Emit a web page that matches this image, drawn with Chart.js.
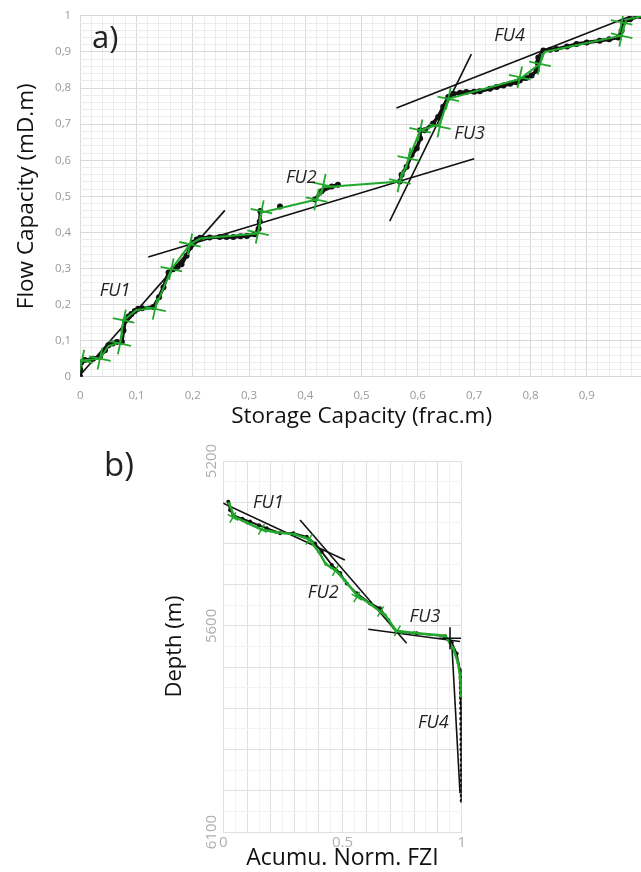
<!DOCTYPE html>
<html>
<head>
<meta charset="utf-8">
<script src="https://cdn.jsdelivr.net/npm/chart.js@4.4.0/dist/chart.umd.min.js"></script>
<style>
  html, body { margin: 0; padding: 0; background: #fff; overflow: hidden; width: 641px; height: 872px; }
  #wrapA { position: absolute; left: 0; top: 0; width: 660px; height: 440px; }
  #wrapB { position: absolute; left: 0; top: 430px; width: 641px; height: 442px; }
  .tag { position: absolute; font-family: "Open Sans", sans-serif; color: #222; line-height: 1; }
</style>
</head>
<body>
<div id="wrapA"><canvas id="chartA" width="660" height="440"></canvas></div>
<div id="wrapB"><canvas id="chartB" width="641" height="442"></canvas></div>
<div class="tag" style="left:92px;top:21px;font-size:31px">a)</div>
<div class="tag" style="left:104px;top:447px;font-size:33px">b)</div>
<script>
// --- a) Lorenz plot: storage capacity vs flow capacity (null = gap in the curve)
const storageCap = [0.0, 0.0, 0.002, 0.008, 0.023, 0.035, 0.044, 0.05, 0.058, 0.065, 0.074, 0.077, 0.08, 0.086, 0.091, 0.097, 0.103, 0.11, 0.13, 0.14, 0.148, 0.157, 0.165, 0.173, 0.18, 0.189, 0.195, 0.2, 0.207, 0.213, 0.23, 0.248, 0.26, 0.272, 0.285, 0.296, 0.31, 0.317, 0.319, 0.32, 0.33, 0.355, 0.38, 0.417, 0.429, 0.447, 0.458, 0.5, 0.568, 0.571, 0.58, 0.589, 0.598, 0.604, 0.604, 0.612, 0.627, 0.636, 0.645, 0.654, 0.663, 0.675, 0.686, 0.7, 0.71, 0.728, 0.74, 0.752, 0.764, 0.775, 0.781, 0.792, 0.802, 0.811, 0.813, 0.814, 0.823, 0.835, 0.846, 0.865, 0.882, 0.9, 0.923, 0.94, 0.956, 0.962, 0.965, 0.977, 0.995, 1.0];
const flowCap    = [0.0, 0.02, 0.04, 0.046, 0.05, 0.055, 0.073, 0.087, 0.092, 0.096, 0.097, 0.128, 0.156, 0.167, 0.174, 0.182, 0.188, 0.19, 0.193, 0.22, 0.248, 0.289, 0.298, 0.305, 0.312, 0.335, 0.358, 0.371, 0.38, 0.385, 0.386, 0.387, 0.387, 0.387, 0.389, 0.39, 0.395, 0.41, 0.43, 0.459, null, 0.472, null, 0.491, 0.514, 0.527, 0.532, null, 0.541, 0.56, 0.582, 0.615, 0.633, 0.66, 0.683, 0.683, 0.702, 0.72, 0.748, 0.775, 0.784, 0.787, 0.789, 0.79, 0.791, 0.798, 0.803, 0.807, 0.812, 0.816, 0.821, 0.828, 0.835, 0.849, 0.87, 0.885, 0.904, 0.906, 0.908, 0.915, 0.922, 0.926, 0.931, 0.935, 0.94, 0.959, 0.982, 0.991, 1.0, 1.0];

// green fitted segments and break markers
const greenAX = [0.0, 0.003, 0.035, 0.05, 0.071, 0.077, 0.1, 0.133, 0.162, 0.195, 0.213, 0.316, 0.322, 0.42, 0.432, 0.568, 0.583, 0.604, 0.639, 0.654, 0.781, 0.817, 0.825, 0.962, 0.97, 1.0];
const greenAY = [0.035, 0.045, 0.05, 0.085, 0.095, 0.156, 0.185, 0.19, 0.298, 0.367, 0.383, 0.397, 0.455, 0.491, 0.525, 0.541, 0.6, 0.683, 0.7, 0.77, 0.825, 0.867, 0.9, 0.945, 0.99, 1.0];
const crossAX = [0.003, 0.035, 0.071, 0.077, 0.133, 0.162, 0.195, 0.316, 0.322, 0.42, 0.432, 0.568, 0.583, 0.604, 0.639, 0.654, 0.781, 0.817, 0.962, 0.962];
const crossAY = [0.045, 0.05, 0.092, 0.156, 0.188, 0.298, 0.367, 0.399, 0.459, 0.491, 0.532, 0.541, 0.605, 0.683, 0.693, 0.77, 0.83, 0.867, 0.945, 0.982];

// FU regression lines [x0, y0, x1, y1]
const regA = [
  [0.0, 0.005, 0.257, 0.461],
  [0.121, 0.332, 0.70, 0.604],
  [0.55, 0.431, 0.695, 0.894],
  [0.562, 0.745, 1.0, 1.013]
];
const fuNames = ['FU1', 'FU2', 'FU3', 'FU4'];
const fuAX = [0.062, 0.393, 0.692, 0.763];
const fuAY = [0.237, 0.552, 0.674, 0.945];

// --- b) depth vs cumulative normalized FZI
const fziB   = [0.021, 0.028, 0.042, 0.08, 0.112, 0.15, 0.182, 0.238, 0.294, 0.35, 0.385, 0.413, 0.455, 0.49, 0.518, 0.56, 0.615, 0.657, 0.692, 0.727, 0.811, 0.93, 0.958, 0.979, 0.993, 0.995, 0.996, 0.996, 0.997, 0.997, 0.997, 0.998, 0.998, 0.998, 0.998, 0.999, 0.999, 0.999, 0.999, 0.999, 1.0, 1.0, 1.0, 1.0, 1.0, 1.0, 1.0, 1.0, 1.0, 1.0];
const depthB = [5299, 5319, 5331, 5340, 5347, 5356, 5363, 5375, 5375, 5384, 5400, 5420, 5452, 5472, 5497, 5521, 5545, 5557, 5586, 5614, 5618, 5625, 5640, 5667, 5707, 5725, 5738, 5750, 5762, 5775, 5787, 5800, 5812, 5825, 5838, 5850, 5862, 5875, 5888, 5900, 5912, 5925, 5938, 5950, 5962, 5975, 5988, 6000, 6012, 6024];
const greenBX = [0.025, 0.045, 0.1, 0.16, 0.22, 0.3, 0.36, 0.40, 0.43, 0.47, 0.51, 0.56, 0.62, 0.68, 0.725, 0.80, 0.93, 0.965, 0.985, 0.995, 0.998];
const greenBD = [5303, 5335, 5350, 5366, 5373, 5378, 5390, 5420, 5450, 5465, 5490, 5525, 5548, 5575, 5612, 5617, 5624, 5655, 5690, 5730, 5770];
const crossBX = [0.04, 0.16, 0.36, 0.47, 0.56, 0.66, 0.73];
const crossBD = [5337, 5366, 5390, 5466, 5530, 5565, 5612];
const regB = [
  [-0.028, 5295, 0.51, 5440],
  [0.322, 5343, 0.769, 5642],
  [0.608, 5608, 0.993, 5638],
  [0.958, 5638, 0.993, 6006]
];
const fuBX = [0.189, 0.419, 0.846, 0.881];
const fuBD = [5301, 5521, 5578, 5836];

const GREEN = '#22a82c';
const FONT = '"Open Sans", sans-serif';

function pts(xs, ys) { return xs.map((x, i) => ({ x: x, y: ys[i] })); }

const fuText = {
  id: 'fuText',
  afterDatasetsDraw(chart, args, opts) {
    const { ctx, scales } = chart;
    ctx.save();
    ctx.font = 'italic 18px ' + FONT;
    ctx.fillStyle = '#222';
    ctx.textAlign = 'center';
    ctx.textBaseline = 'middle';
    opts.names.forEach((t, i) => {
      ctx.fillText(t, scales.x.getPixelForValue(opts.xs[i]), scales.y.getPixelForValue(opts.ys[i]));
    });
    ctx.restore();
  }
};

function regSets(reg) {
  return reg.map(r => ({
    data: [{ x: r[0], y: r[1] }, { x: r[2], y: r[3] }],
    showLine: true, borderColor: '#111', borderWidth: 1.6, pointRadius: 0
  }));
}

// chart a)
const isTenth = v => Math.round(v * 100) % 10 === 0;
const commaLabel = v => {
  const r = Math.round(v * 10) / 10;
  if (!isTenth(v)) return '';
  return (r === 0 || r === 1) ? String(r) : r.toFixed(1).replace('.', ',');
};

new Chart(document.getElementById('chartA'), {
  type: 'scatter',
  data: {
    datasets: [
      { data: pts(crossAX, crossAY), pointStyle: 'cross', pointRadius: 11, pointRotation: 12,
        borderColor: GREEN, borderWidth: 1.8, showLine: false },
      { data: pts(greenAX, greenAY), showLine: true, borderColor: GREEN, borderWidth: 2, pointRadius: 0 },
      { data: pts(storageCap, flowCap), showLine: true, spanGaps: false, borderColor: '#111', borderWidth: 3.5,
        pointRadius: 3, pointBackgroundColor: '#111', pointBorderWidth: 0 },
      ...regSets(regA)
    ]
  },
  options: {
    responsive: false,
    animation: false,
    devicePixelRatio: 1,
    layout: { padding: { top: 13.3, right: 17, left: 0, bottom: 0 } },
    plugins: {
      legend: { display: false },
      tooltip: { enabled: false },
      fuText: { names: fuNames, xs: fuAX, ys: fuAY }
    },
    scales: {
      x: {
        type: 'linear', min: 0, max: 1,
        afterFit: s => { s.height = 63.3; },
        border: { display: false },
        grid: { drawTicks: false, color: c => isTenth(c.tick.value) ? '#d9d9d9' : '#ececec' },
        ticks: { stepSize: 0.02, autoSkip: false, maxRotation: 0, padding: 12,
          color: '#999', font: { family: FONT, size: 11.5 }, callback: commaLabel },
        title: { display: true, text: 'Storage Capacity (frac.m)', color: '#111',
          font: { family: FONT, size: 22.5 }, padding: { top: 0, bottom: 10 } }
      },
      y: {
        type: 'linear', min: 0, max: 1,
        afterFit: s => { s.width = 80.2; },
        border: { display: false },
        grid: { drawTicks: false, color: c => isTenth(c.tick.value) ? '#d9d9d9' : '#ececec' },
        ticks: { stepSize: 0.02, autoSkip: false, padding: 9,
          color: '#999', font: { family: FONT, size: 11.5 }, callback: commaLabel },
        title: { display: true, text: 'Flow Capacity (mD.m)', color: '#111',
          font: { family: FONT, size: 22.5 }, padding: { top: 13, bottom: 0 } }
      }
    }
  },
  plugins: [fuText]
});

// chart b)
const bXLabels = { 0: '0', 50: '0.5', 100: '1' };
const bYLabels = [5200, 5600, 6100];

new Chart(document.getElementById('chartB'), {
  type: 'scatter',
  data: {
    datasets: [
      { data: [{ x: 0.951, y: 5630 }], pointStyle: 'cross', pointRadius: 11,
        borderColor: '#111', borderWidth: 1.6, showLine: false },
      { data: pts(crossBX, crossBD), pointStyle: 'cross', pointRadius: 6, pointRotation: 30,
        borderColor: GREEN, borderWidth: 1.5, showLine: false },
      { data: pts(greenBX, greenBD), showLine: true, borderColor: GREEN, borderWidth: 2.5,
        pointRadius: 1.8, pointBackgroundColor: GREEN, pointBorderWidth: 0 },
      { data: pts(fziB, depthB), showLine: true, borderColor: '#111', borderWidth: 1.8,
        pointRadius: 2, pointBackgroundColor: '#111', pointBorderWidth: 0 },
      ...regSets(regB)
    ]
  },
  options: {
    responsive: false,
    animation: false,
    devicePixelRatio: 1,
    layout: { padding: { top: 31, right: 179.3, left: 0, bottom: 0 } },
    plugins: {
      legend: { display: false },
      tooltip: { enabled: false },
      fuText: { names: fuNames, xs: fuBX, ys: fuBD }
    },
    scales: {
      x: {
        type: 'linear', min: 0, max: 1,
        afterFit: s => { s.height = 40; },
        border: { display: false },
        grid: { drawTicks: false, color: c => (Math.round(c.tick.value * 100) % 10 === 0) ? '#e0e0e0' : '#f2f2f2' },
        ticks: { stepSize: 0.05, autoSkip: false, maxRotation: 0, padding: 2,
          color: '#b0b0b0', font: { family: FONT, size: 15 },
          callback: v => bXLabels[Math.round(v * 100)] || '' },
        title: { display: true, text: 'Acumu. Norm. FZI', color: '#111',
          font: { family: FONT, size: 23 }, padding: { top: 0, bottom: 0 } }
      },
      y: {
        type: 'linear', min: 5200, max: 6100, reverse: true,
        afterFit: s => { s.width = 223.3; },
        border: { display: false },
        grid: { drawTicks: false, color: c => (c.tick.value % 100 === 0) ? '#e0e0e0' : '#f2f2f2' },
        ticks: { stepSize: 50, autoSkip: false, minRotation: 90, maxRotation: 90,
          crossAlign: 'center', padding: -6,
          color: '#b0b0b0', font: { family: FONT, size: 15 },
          callback: v => bYLabels.includes(v) ? String(v) : '' },
        title: { display: true, text: 'Depth (m)', color: '#111',
          font: { family: FONT, size: 22 }, padding: { top: 162, bottom: 0 } }
      }
    }
  },
  plugins: [fuText]
});
</script>
</body>
</html>
